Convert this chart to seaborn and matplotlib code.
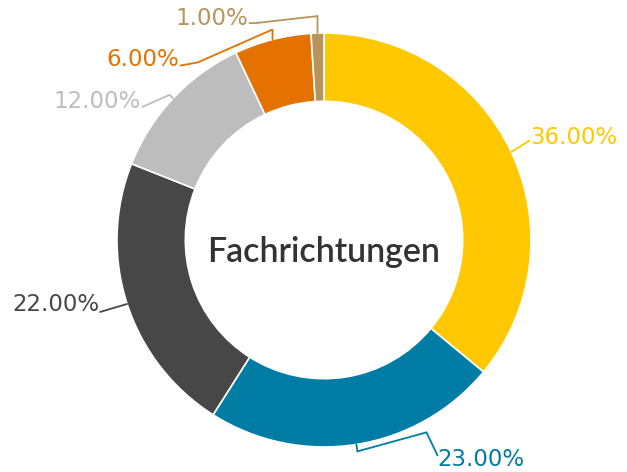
import numpy as np
import matplotlib
matplotlib.use('Agg')
import matplotlib.pyplot as plt
import seaborn as sns

sns.set_theme(style='white')
plt.rcParams['font.family'] = ['DejaVu Sans']

# 데이터
categories = ['A', 'B', 'C', 'D', 'E', 'F']
shares = [36, 23, 22, 12, 6, 1]
labels = ['36.00%', '23.00%', '22.00%', '12.00%', '6.00%', '1.00%']
colors = ['#FFC800', '#007CA5', '#474747', '#BDBDBD', '#E57200', '#B8935A']
text_colors = ['#FFC800', '#007CA5', '#474747', '#BDBDBD', '#E57200', '#B8935A']

# 레이아웃 (픽셀 단위, y축 뒤집음)
cx, cy, R = 324, 240, 207
ring = 0.33
# 각 라벨: 틱 길이, 꺾임점 오프셋, 끝점 오프셋, 정렬
ticks = [0, 7, 0, 5, 10, 17]
elbows = [(18, -11), (69, -19), (-27, 8), (-27, 12), (-75, 33), (-62, 7)]
ends = [(0, 0), (11, 23), (0, 0), (0, 0), (-17, 3), (-6, 0)]
text_off = [(1, -3), (0, 4), (-1, -7), (-2, -5), (-1, -6), (-1, -5)]
aligns = ['left', 'left', 'right', 'right', 'right', 'right']

fig = plt.figure(figsize=(6.27, 4.72), dpi=100)
ax = fig.add_axes([0, 0, 1, 1])

ax.pie(shares, colors=colors, startangle=-90, counterclock=True,
       radius=R, center=(cx, cy),
       wedgeprops=dict(width=R * ring, edgecolor='white', linewidth=1.2))

cum = np.cumsum(shares) - np.array(shares) / 2
for i in range(len(shares)):
    a = np.deg2rad(-90 + 360 * cum[i] / sum(shares))
    p0 = (cx + R * np.cos(a), cy + R * np.sin(a))
    p1 = (cx + (R + ticks[i]) * np.cos(a), cy + (R + ticks[i]) * np.sin(a))
    if i in (4, 5):  # 세로 틱
        p1 = (p0[0], p0[1] - ticks[i])
    p2 = (p1[0] + elbows[i][0], p1[1] + elbows[i][1])
    p3 = (p2[0] + ends[i][0], p2[1] + ends[i][1])
    ax.plot([p0[0], p1[0], p2[0], p3[0]], [p0[1], p1[1], p2[1], p3[1]],
            color=text_colors[i], lw=1.3, solid_joinstyle='miter')
    ax.text(p3[0] + text_off[i][0], p3[1] + text_off[i][1], labels[i],
            color=text_colors[i], fontsize=16.5, ha=aligns[i], va='center')

ax.text(cx, cy + 12, 'Fachrichtungen', ha='center', va='center',
        fontsize=24.5, color='#333333', family=['Lato', 'DejaVu Sans'], weight='semibold')

ax.set_xlim(0, 627)
ax.set_ylim(472, 0)
ax.set_aspect('auto')
ax.axis('off')

plt.savefig('out.png', dpi=100)
